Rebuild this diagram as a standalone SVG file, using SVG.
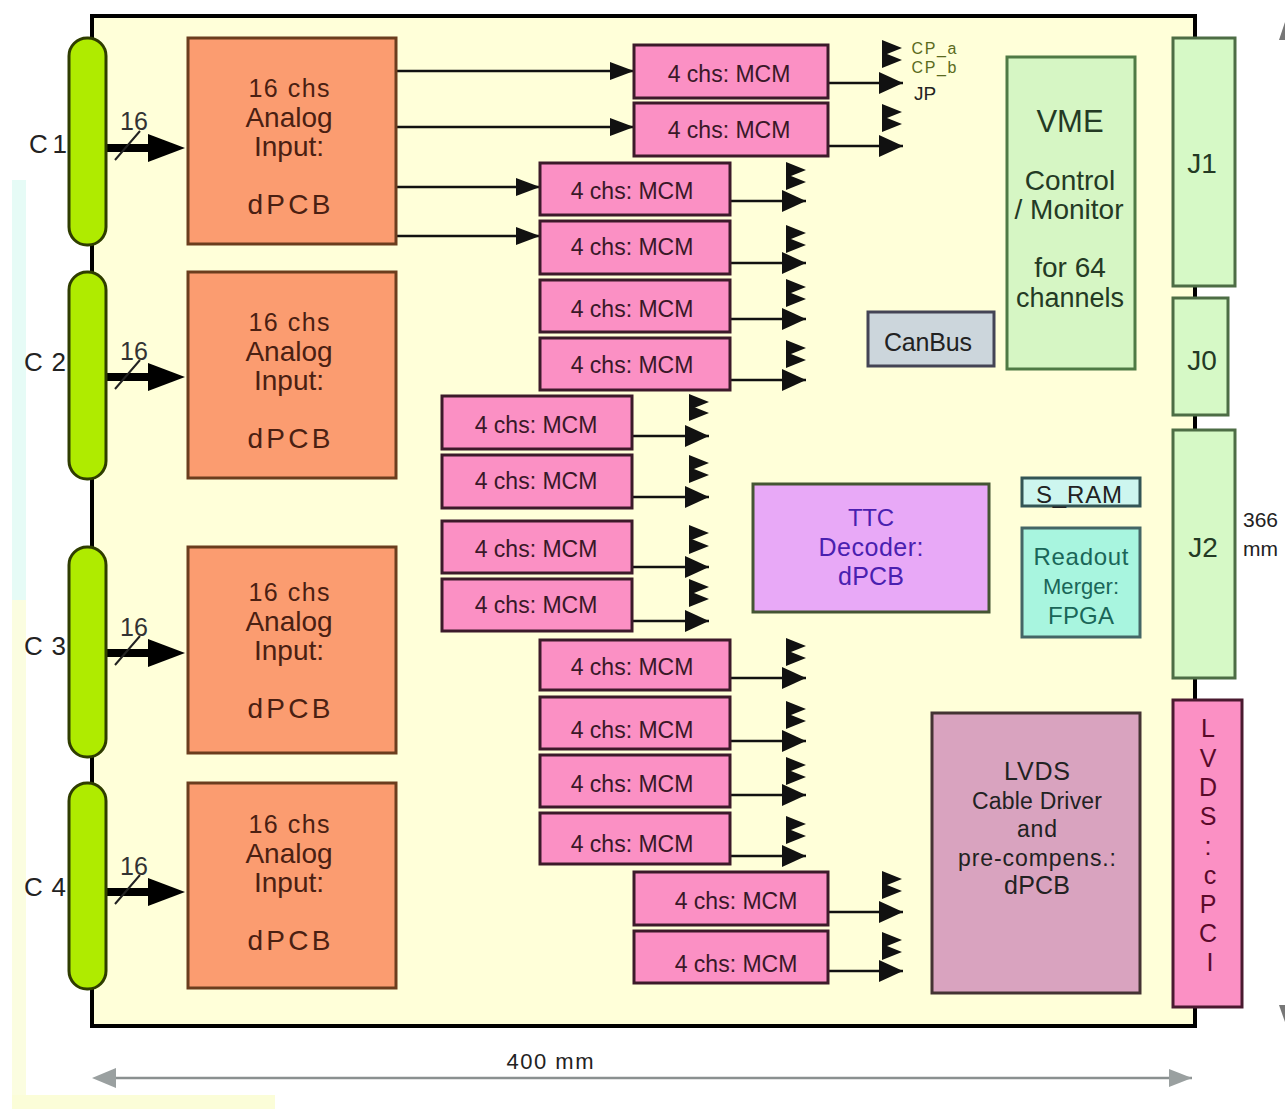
<svg xmlns="http://www.w3.org/2000/svg" width="1285" height="1109" viewBox="0 0 1285 1109">
<style>
text{font-family:"Liberation Sans",Arial,sans-serif;fill:#222;text-anchor:middle}
.box{stroke:#2a1a1a;stroke-width:3}
.adc{fill:#fb9c70;stroke:#6b3d1e}
.adc+text,.adc~text{fill:#4a2012}
.mcm{fill:#fb90c4;stroke:#3c1a2a}
.mcm+text{fill:#3a1828}
.con{fill:#afeb00;stroke:#2f3d00;stroke-width:3}
.j{fill:#d6f9c6;stroke:#4d6d45}
.g{fill:#243a24}
.m{font-size:23px}
.a{font-size:28px}
.l{font-size:26px}
.n{font-size:25px;fill:#333}
.line{stroke:#111;stroke-width:2.5;fill:none}
.h{fill:#111}
</style>
<defs>
<marker id="inh" markerUnits="userSpaceOnUse" markerWidth="25" markerHeight="20" refX="24" refY="10" orient="auto"><path d="M0 1L24 10L0 19Z" fill="#111"/></marker>
<marker id="outh" markerUnits="userSpaceOnUse" markerWidth="25" markerHeight="24" refX="24" refY="12" orient="auto"><path d="M0 1L24 12L0 23Z" fill="#111"/></marker>
<marker id="grey" markerUnits="userSpaceOnUse" markerWidth="24" markerHeight="20" refX="23" refY="10" orient="auto"><path d="M0 1L23 10L0 19Z" fill="#9aa0a0"/></marker>
<polygon id="s" points="-20,-8 0,0 -20,8" class="h"/>
</defs>
<rect width="1285" height="1109" fill="#fff"/>
<rect x="12" y="180" width="14" height="420" fill="#e6fbf6"/>
<rect x="12" y="600" width="14" height="509" fill="#fbfde0"/>
<rect x="12" y="1095" width="263" height="14" fill="#fbfdd8"/>
<rect id="board" x="92" y="16" width="1103" height="1010" fill="#ffffd9" stroke="#000" stroke-width="4"/>
<g id="connectors">
<g class="line">
<path d="M396 71H634" marker-end="url(#inh)"/><path d="M396 127H634" marker-end="url(#inh)"/>
<path d="M396 187H540" marker-end="url(#inh)"/><path d="M396 236H540" marker-end="url(#inh)"/>
<path d="M828 83H903" marker-end="url(#outh)"/><path d="M828 146H903" marker-end="url(#outh)"/>
<path d="M730 201H806" marker-end="url(#outh)"/><path d="M730 263H806" marker-end="url(#outh)"/><path d="M730 319H806" marker-end="url(#outh)"/><path d="M730 380H806" marker-end="url(#outh)"/>
<path d="M632 436H709" marker-end="url(#outh)"/><path d="M632 497H709" marker-end="url(#outh)"/><path d="M632 567H709" marker-end="url(#outh)"/><path d="M632 621H709" marker-end="url(#outh)"/>
<path d="M730 678H806" marker-end="url(#outh)"/><path d="M730 741H806" marker-end="url(#outh)"/><path d="M730 795H806" marker-end="url(#outh)"/><path d="M730 856H806" marker-end="url(#outh)"/>
<path d="M828 912H903" marker-end="url(#outh)"/><path d="M828 971H903" marker-end="url(#outh)"/>
</g>
<g>
<use href="#s" x="902" y="48"/><use href="#s" x="902" y="60"/><use href="#s" x="902" y="112"/><use href="#s" x="902" y="124"/>
<use href="#s" x="806" y="170"/><use href="#s" x="806" y="182"/><use href="#s" x="806" y="233"/><use href="#s" x="806" y="245"/><use href="#s" x="806" y="287"/><use href="#s" x="806" y="299"/><use href="#s" x="806" y="348"/><use href="#s" x="806" y="360"/>
<use href="#s" x="709" y="402"/><use href="#s" x="709" y="413"/><use href="#s" x="709" y="463"/><use href="#s" x="709" y="475"/><use href="#s" x="709" y="533"/><use href="#s" x="709" y="546"/><use href="#s" x="709" y="587"/><use href="#s" x="709" y="599"/>
<use href="#s" x="806" y="646"/><use href="#s" x="806" y="658"/><use href="#s" x="806" y="709"/><use href="#s" x="806" y="721"/><use href="#s" x="806" y="765"/><use href="#s" x="806" y="777"/><use href="#s" x="806" y="824"/><use href="#s" x="806" y="836"/>
<use href="#s" x="902" y="879"/><use href="#s" x="902" y="891"/><use href="#s" x="902" y="940"/><use href="#s" x="902" y="952"/>
</g>
<g stroke="#000" stroke-width="8" fill="none">
<path d="M106 148H155"/><path d="M106 377H155"/><path d="M106 653H155"/><path d="M106 892H155"/>
</g>
<g fill="#000">
<polygon points="148,134 185,148 148,162"/><polygon points="148,363 185,377 148,391"/><polygon points="148,639 185,653 148,667"/><polygon points="148,878 185,892 148,906"/>
</g>
<g stroke="#222" stroke-width="2" fill="none">
<path d="M115 160L140 131M115 389L140 360M115 665L140 636M115 904L140 875"/>
</g>
<path d="M100 1078H1192" stroke="#8a9090" stroke-width="2.5" marker-end="url(#grey)"/>
<polygon points="92,1078 116,1068 116,1088" fill="#9aa0a0"/>
<polygon points="1285,22 1279,40 1285,40" fill="#777"/>
<polygon points="1285,1022 1279,1005 1285,1005" fill="#777"/>
</g>
<g id="c1"><rect class="con" x="69" y="38" width="37" height="207" rx="18"/><text class="l" x="48" y="153" textLength="38">C 1</text></g>
<g id="c2"><rect class="con" x="69" y="272" width="37" height="207" rx="18"/><text class="l" x="45" y="371" textLength="42">C 2</text></g>
<g id="c3"><rect class="con" x="69" y="547" width="37" height="210" rx="18"/><text class="l" x="45" y="655" textLength="42">C 3</text></g>
<g id="c4"><rect class="con" x="69" y="783" width="37" height="206" rx="18"/><text class="l" x="45" y="896" textLength="42">C 4</text></g>
<g id="lab16"><text class="n" x="134" y="130">16</text><text class="n" x="134" y="360">16</text><text class="n" x="134" y="636">16</text><text class="n" x="134" y="875">16</text></g>
<g id="adc1"><rect class="box adc" x="188" y="38" width="208" height="206"/><text x="289" y="97" font-size="25" textLength="81">16 chs</text><text class="a" x="289" y="127">Analog</text><text class="a" x="289" y="156">Input:</text><text class="a" x="289" y="214" textLength="83">dPCB</text></g>
<g id="adc2"><rect class="box adc" x="188" y="272" width="208" height="206"/><text x="289" y="331" font-size="25" textLength="81">16 chs</text><text class="a" x="289" y="361">Analog</text><text class="a" x="289" y="390">Input:</text><text class="a" x="289" y="448" textLength="83">dPCB</text></g>
<g id="adc3"><rect class="box adc" x="188" y="547" width="208" height="206"/><text x="289" y="601" font-size="25" textLength="81">16 chs</text><text class="a" x="289" y="631">Analog</text><text class="a" x="289" y="660">Input:</text><text class="a" x="289" y="718" textLength="83">dPCB</text></g>
<g id="adc4"><rect class="box adc" x="188" y="783" width="208" height="205"/><text x="289" y="833" font-size="25" textLength="81">16 chs</text><text class="a" x="289" y="863">Analog</text><text class="a" x="289" y="892">Input:</text><text class="a" x="289" y="950" textLength="83">dPCB</text></g>
<g id="mcm1"><rect class="box mcm" x="634" y="45" width="194" height="53"/><text class="m" x="729" y="82">4 chs: MCM</text></g>
<g id="mcm2"><rect class="box mcm" x="634" y="103" width="194" height="53"/><text class="m" x="729" y="138">4 chs: MCM</text></g>
<g id="mcm3"><rect class="box mcm" x="540" y="163" width="190" height="52"/><text class="m" x="632" y="199">4 chs: MCM</text></g>
<g id="mcm4"><rect class="box mcm" x="540" y="221" width="190" height="53"/><text class="m" x="632" y="255">4 chs: MCM</text></g>
<g id="mcm5"><rect class="box mcm" x="540" y="280" width="190" height="52"/><text class="m" x="632" y="317">4 chs: MCM</text></g>
<g id="mcm6"><rect class="box mcm" x="540" y="338" width="190" height="52"/><text class="m" x="632" y="373">4 chs: MCM</text></g>
<g id="mcm7"><rect class="box mcm" x="442" y="396" width="190" height="53"/><text class="m" x="536" y="433">4 chs: MCM</text></g>
<g id="mcm8"><rect class="box mcm" x="442" y="455" width="190" height="53"/><text class="m" x="536" y="489">4 chs: MCM</text></g>
<g id="mcm9"><rect class="box mcm" x="442" y="521" width="190" height="52"/><text class="m" x="536" y="557">4 chs: MCM</text></g>
<g id="mcm10"><rect class="box mcm" x="442" y="579" width="190" height="52"/><text class="m" x="536" y="613">4 chs: MCM</text></g>
<g id="mcm11"><rect class="box mcm" x="540" y="640" width="190" height="50"/><text class="m" x="632" y="675">4 chs: MCM</text></g>
<g id="mcm12"><rect class="box mcm" x="540" y="697" width="190" height="52"/><text class="m" x="632" y="738">4 chs: MCM</text></g>
<g id="mcm13"><rect class="box mcm" x="540" y="755" width="190" height="52"/><text class="m" x="632" y="792">4 chs: MCM</text></g>
<g id="mcm14"><rect class="box mcm" x="540" y="813" width="190" height="51"/><text class="m" x="632" y="852">4 chs: MCM</text></g>
<g id="mcm15"><rect class="box mcm" x="634" y="872" width="194" height="53"/><text class="m" x="736" y="909">4 chs: MCM</text></g>
<g id="mcm16"><rect class="box mcm" x="634" y="931" width="194" height="52"/><text class="m" x="736" y="972">4 chs: MCM</text></g>
<g id="outs"><text x="934" y="54" font-size="16" textLength="45" style="fill:#5a6a20">CP_a</text><text x="934" y="73" font-size="16" textLength="45" style="fill:#5a6a20">CP_b</text><text x="925" y="100" font-size="19">JP</text></g>
<g id="vme"><rect class="box" x="1007" y="57" width="128" height="312" fill="#d6f6c4" style="stroke:#4f7a45"/><text class="g" x="1070" y="132" font-size="31">VME</text><text class="g" x="1070" y="190" font-size="28">Control</text><text class="g" x="1069" y="219" font-size="28">/ Monitor</text><text class="g" x="1070" y="277" font-size="28">for 64</text><text class="g" x="1070" y="307" font-size="27">channels</text></g>
<g id="canbus"><rect class="box" x="868" y="312" width="126" height="54" fill="#ccd6dc" style="stroke:#445"/><text x="928" y="351" font-size="25" textLength="88">CanBus</text></g>
<g id="sram"><rect class="box" x="1022" y="478" width="118" height="28" fill="#cdf6ef" style="stroke:#355"/><text x="1079" y="503" font-size="24" textLength="86">S_RAM</text></g>
<g id="readout"><rect class="box" x="1022" y="528" width="118" height="109" fill="#a8f5df" style="stroke:#466"/><text x="1081" y="565" font-size="24" textLength="95" style="fill:#1a6658">Readout</text><text x="1081" y="594" font-size="22" textLength="76" style="fill:#1a6658">Merger:</text><text x="1081" y="624" font-size="24" textLength="66" style="fill:#1a6658">FPGA</text></g>
<g id="ttc"><rect class="box" x="753" y="484" width="236" height="128" fill="#e8a9f7" style="stroke:#453"/><text x="871" y="526" font-size="24" textLength="46" style="fill:#4a1fb0">TTC</text><text x="871" y="556" font-size="25" textLength="105" style="fill:#4a1fb0">Decoder:</text><text x="871" y="585" font-size="25" textLength="66" style="fill:#4a1fb0">dPCB</text></g>
<g id="lvdsdrv"><rect class="box" x="932" y="713" width="208" height="280" fill="#d9a3bf" style="stroke:#433"/><text x="1037" y="780" font-size="25" textLength="66">LVDS</text><text x="1037" y="809" font-size="23" textLength="130">Cable Driver</text><text x="1037" y="837" font-size="23" textLength="40">and</text><text x="1037" y="866" font-size="23" textLength="158">pre-compens.:</text><text x="1037" y="894" font-size="25" textLength="66">dPCB</text></g>
<g id="j1"><rect class="box j" x="1173" y="38" width="62" height="248"/><text class="g" x="1202" y="173" font-size="28">J1</text></g>
<g id="j0"><rect class="box j" x="1173" y="298" width="55" height="117"/><text class="g" x="1202" y="370" font-size="28">J0</text></g>
<g id="j2"><rect class="box j" x="1173" y="430" width="62" height="248"/><text class="g" x="1203" y="557" font-size="28">J2</text></g>
<g id="lvdscpci"><rect class="box" x="1173" y="700" width="69" height="307" fill="#fb90c4" style="stroke:#4a1a30"/><text font-size="25" style="fill:#5a0a2a"><tspan x="1208" y="737">L</tspan><tspan x="1208" y="767">V</tspan><tspan x="1208" y="796">D</tspan><tspan x="1208" y="825">S</tspan><tspan x="1208" y="855">:</tspan><tspan x="1210" y="884">c</tspan><tspan x="1208" y="913">P</tspan><tspan x="1208" y="942">C</tspan><tspan x="1210" y="971">I</tspan></text></g>
<g id="dims"><text x="550" y="1069" font-size="22" textLength="87">400 mm</text><text x="1243" y="527" font-size="21" style="text-anchor:start">366</text><text x="1243" y="556" font-size="21" style="text-anchor:start">mm</text></g>
</svg>
